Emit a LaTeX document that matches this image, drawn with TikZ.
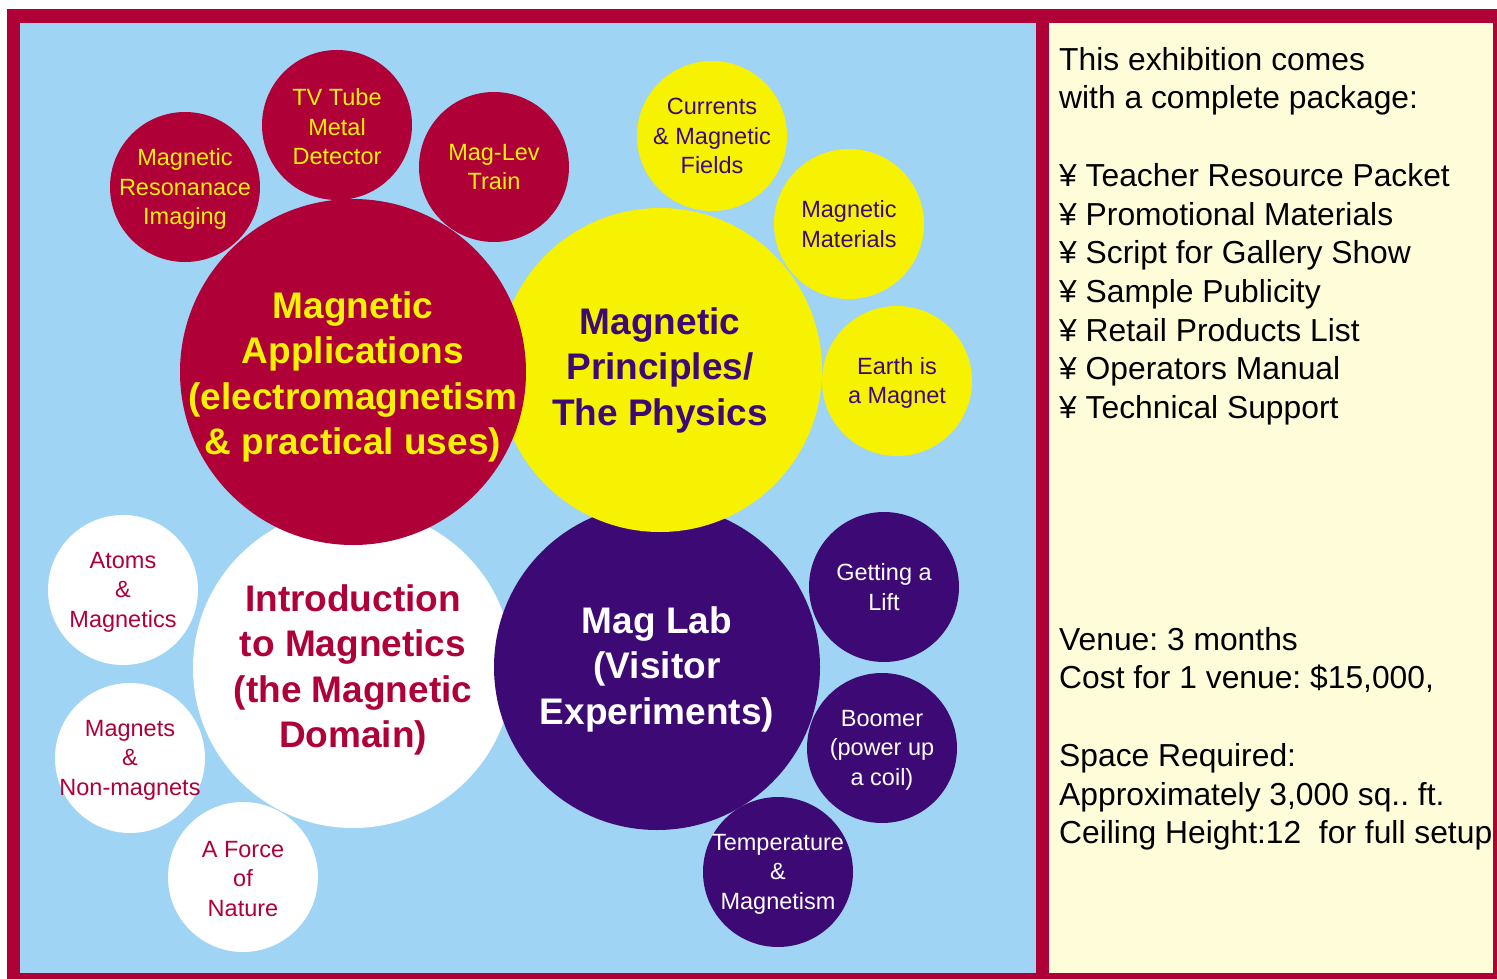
\documentclass[tikz,border=0pt]{standalone}
\usepackage{fontspec}
\setmainfont{Liberation Sans}
\frenchspacing
\definecolor{magred}{HTML}{B00038}
\definecolor{skyblue}{HTML}{9FD4F5}
\definecolor{sunyellow}{HTML}{F7F200}
\definecolor{labpurple}{HTML}{3D0A75}
\definecolor{panelyellow}{HTML}{FFFCD9}
\begin{document}
\begin{tikzpicture}
	[x=1pt, y=-1pt,
	bubble/.style={circle, inner sep=0pt, minimum size=150pt},
	big/.style={circle, inner sep=0pt},
	bigtext/.style={align=center, inner sep=0pt,
		font=\fontsize{37}{45.5}\selectfont\bfseries},
	smalltext/.style={align=center, inner sep=0pt,
		font=\fontsize{23.5}{29.5}\selectfont},
	paneltext/.style={align=left, anchor=north west, inner sep=0pt,
		font=\fontsize{31.8}{38.7}\selectfont}]
	\useasboundingbox (0,0) rectangle (1497,979);
	\fill[magred] (7,9) rectangle (1497,979);
	\fill[skyblue] (20,23) rectangle (1036,973);
	\fill[panelyellow] (1049,23) rectangle (1493,973);

	\node[big, fill=white, minimum size=320pt] (intro) at (353,668) {};
	\node[big, fill=labpurple, minimum size=326pt] (lab) at (657,667) {};
	\node[big, fill=sunyellow, minimum size=324pt] (phys) at (660,370) {};
	\node[big, fill=magred, minimum size=346pt] (apps) at (353,372) {};

	\node[bubble, fill=magred] (mri) at (185,187) {};
	\node[bubble, fill=magred] (tvtube) at (337,125) {};
	\node[bubble, fill=magred] (maglev) at (494,167) {};
	\node[bubble, fill=sunyellow] (currents) at (712,136) {};
	\node[bubble, fill=sunyellow] (materials) at (849,224) {};
	\node[bubble, fill=sunyellow] (earth) at (897,381) {};
	\node[bubble, fill=labpurple] (lift) at (884,587) {};
	\node[bubble, fill=labpurple] (boomer) at (882,748) {};
	\node[bubble, fill=labpurple] (temp) at (778,872) {};
	\node[bubble, fill=white] (atoms) at (123,590) {};
	\node[bubble, fill=white] (nonmag) at (130,758) {};
	\node[bubble, fill=white] (force) at (243,877) {};

	\node[bigtext, text=sunyellow, yshift=-5pt] (apps-t) at (apps)
		{Magnetic\\Applications\\(electromagnetism\\\& practical uses)};
	\node[bigtext, text=labpurple] (phys-t) at (phys)
		{Magnetic\\Principles/\\The Physics};
	\node[bigtext, text=magred, yshift=-2pt] (intro-t) at (intro)
		{Introduction\\to Magnetics\\(the Magnetic\\Domain)};
	\node[bigtext, text=white, yshift=-2pt] (lab-t) at (lab)
		{Mag Lab\\(Visitor\\Experiments)};

	\node[smalltext, text=sunyellow, yshift=-2pt] (mri-t) at (mri) {Magnetic\\Resonanace\\Imaging};
	\node[smalltext, text=sunyellow, yshift=-2pt] (tvtube-t) at (tvtube) {TV Tube\\Metal\\Detector};
	\node[smalltext, text=sunyellow] (maglev-t) at (maglev) {Mag-Lev\\Train};
	\node[smalltext, text=labpurple] (currents-t) at (currents) {Currents\\\& Magnetic\\Fields};
	\node[smalltext, text=labpurple] (materials-t) at (materials) {Magnetic\\Materials};
	\node[smalltext, text=labpurple, yshift=-2pt] (earth-t) at (earth) {Earth is\\a Magnet};
	\node[smalltext, text=white] (lift-t) at (lift) {Getting a\\Lift};
	\node[smalltext, text=white, yshift=-2pt] (boomer-t) at (boomer) {Boomer\\(power up\\a coil)};
	\node[smalltext, text=white, yshift=-2pt] (temp-t) at (temp) {Temperature\\\&\\Magnetism};
	\node[smalltext, text=magred, yshift=-2pt] (atoms-t) at (atoms) {Atoms\\\&\\Magnetics};
	\node[smalltext, text=magred, yshift=-2pt] (nonmag-t) at (nonmag) {Magnets\\\&\\Non-magnets};
	\node[smalltext, text=magred, yshift=-2pt] (force-t) at (force) {A Force\\of\\Nature};

	\node[paneltext] (package) at (1059,47)
		{This exhibition comes\\with a complete package:\\[38.7pt]
		¥ Teacher Resource Packet\\¥ Promotional Materials\\
		¥ Script for Gallery Show\\¥ Sample Publicity\\
		¥ Retail Products List\\¥ Operators Manual\\
		¥ Technical Support};
	\node[paneltext] (venue) at (1059,627)
		{Venue: 3 months\\Cost for 1 venue: \$15,000,\\[38.7pt]
		Space Required:\\Approximately 3,000 sq.. ft.\\
		Ceiling Height:12~~for full setup};
\end{tikzpicture}
\end{document}
